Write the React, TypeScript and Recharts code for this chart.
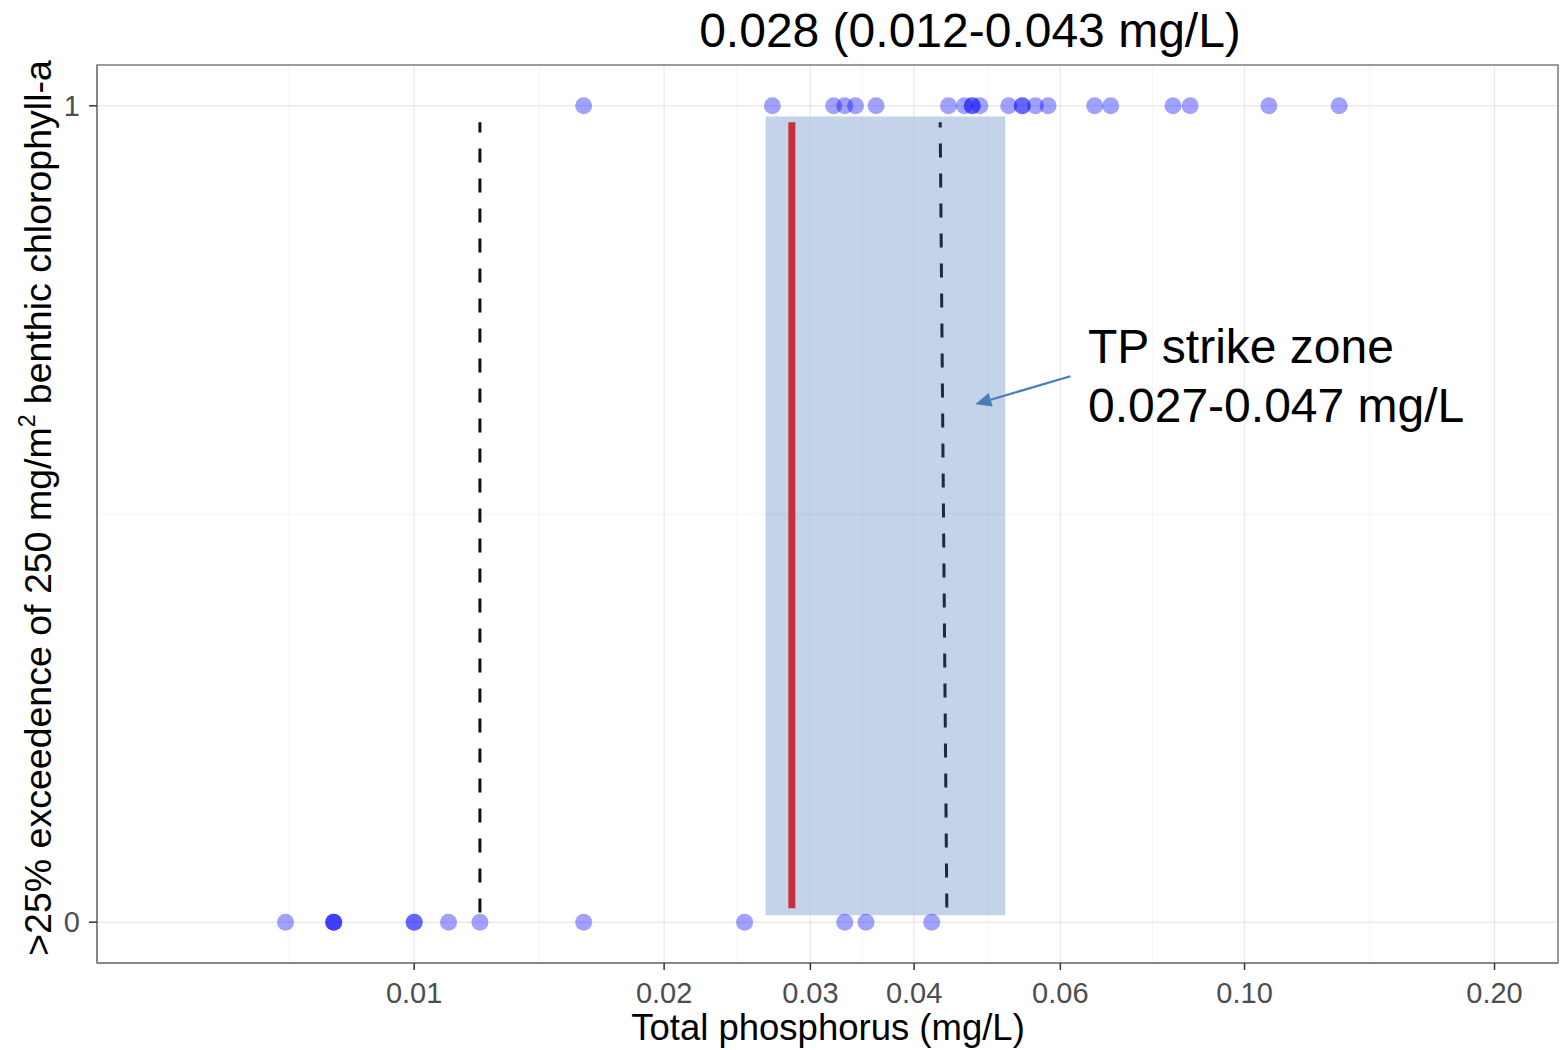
import React from "react";
import {
  ScatterChart,
  Scatter,
  XAxis,
  YAxis,
  CartesianGrid,
  ReferenceLine,
  ReferenceArea,
} from "recharts";

// TP (mg/L) of sites below / above the 25% exceedence threshold
const tpNoExceed = [0.007, 0.008, 0.008, 0.008, 0.01, 0.01, 0.011, 0.012, 0.016, 0.025, 0.033, 0.035, 0.042];
const tpExceed = [
  0.016, 0.027, 0.032, 0.033, 0.034, 0.036, 0.044, 0.046, 0.047, 0.047, 0.048, 0.052, 0.054, 0.054,
  0.056, 0.058, 0.066, 0.069, 0.082, 0.086, 0.107, 0.13,
];

const xTicks = [0.01, 0.02, 0.03, 0.04, 0.06, 0.1, 0.2];
const xTickLabels = ["0.01", "0.02", "0.03", "0.04", "0.06", "0.10", "0.20"];
const xMinor = [0.00707, 0.01414, 0.02449, 0.03464, 0.04899, 0.07746, 0.1414];
const yTicks = [0, 1];
const yMinor = [0.5];

const xDomain = [0.00415, 0.2385];
const yDomain = [-0.05, 1.05];

// estimate + interval, strike zone
const tpEstimate = 0.0285;
const ciLow = 0.012;
const ciHighTop = 0.043;
const ciHighBottom = 0.0438;
const strikeZone = [0.0265, 0.0515];

const FONT = "'Liberation Sans', Arial, sans-serif";

const dataNo = tpNoExceed.map((tp) => ({ tp, exceed: 0 }));
const dataYes = tpExceed.map((tp) => ({ tp, exceed: 1 }));

const Dot = (p: any) => <circle cx={p.cx} cy={p.cy} r={8.5} fill="#0000ff" fillOpacity={0.37} />;

const Arrow = (p: any) => {
  const { x1, y1, x2, y2 } = p;
  const ang = Math.atan2(y2 - y1, x2 - x1);
  const len = 16;
  const w = 7;
  const bx = x2 - len * Math.cos(ang);
  const by = y2 - len * Math.sin(ang);
  const px = -Math.sin(ang) * w;
  const py = Math.cos(ang) * w;
  return (
    <g>
      <line x1={x1} y1={y1} x2={bx} y2={by} stroke="#4a7ebb" strokeWidth={2.2} />
      <polygon points={`${x2},${y2} ${bx + px},${by + py} ${bx - px},${by - py}`} fill="#4a7ebb" />
    </g>
  );
};

const YLabel = () => (
  <text
    x={51}
    y={508}
    transform="rotate(-90, 51, 508)"
    textAnchor="middle"
    fontFamily={FONT}
    fontSize={37.5}
    fill="#000"
  >
    &gt;25% exceedence of 250 mg/m
    <tspan dy={-16} fontSize={23}>2</tspan>
    <tspan dy={16}> benthic chlorophyll-a</tspan>
  </text>
);

const XLabel = () => (
  <text x={828} y={1040} textAnchor="middle" fontFamily={FONT} fontSize={36.5} fill="#000">
    Total phosphorus (mg/L)
  </text>
);

export default function App() {
  return (
    <div style={{ position: "absolute", left: 0, top: 0, width: 1560, height: 1050, background: "#fff" }}>
      <ScatterChart width={1560} height={1050} margin={{ top: 65, right: 2, bottom: 0, left: 0 }}>
        <CartesianGrid stroke="#000" strokeOpacity={0.08} strokeWidth={1.4} />
        {xMinor.map((v) => (
          <ReferenceLine key={"xm" + v} x={v} stroke="#000" strokeOpacity={0.04} strokeWidth={1} />
        ))}
        {yMinor.map((v) => (
          <ReferenceLine key={"ym" + v} y={v} stroke="#000" strokeOpacity={0.04} strokeWidth={1} />
        ))}
        <XAxis
          type="number"
          dataKey="tp"
          scale="log"
          domain={xDomain}
          allowDataOverflow
          ticks={xTicks}
          tickFormatter={(v: number) => xTickLabels[xTicks.indexOf(v)] ?? String(v)}
          height={87}
          tickSize={7}
          tickMargin={12}
          stroke="#808080"
          tickLine={{ stroke: "#333", strokeWidth: 1.5 }}
          axisLine={{ stroke: "#808080", strokeWidth: 1.5 }}
          tick={{ fill: "#4d4d4d", fontSize: 29, fontFamily: FONT }}
          label={<XLabel />}
        />
        <YAxis
          type="number"
          dataKey="exceed"
          domain={yDomain}
          allowDataOverflow
          ticks={yTicks}
          width={97}
          tickSize={8}
          tickMargin={9}
          tickLine={{ stroke: "#333", strokeWidth: 1.5 }}
          axisLine={{ stroke: "#808080", strokeWidth: 1.5 }}
          tick={{ fill: "#4d4d4d", fontSize: 29, fontFamily: FONT }}
          label={<YLabel />}
        />
        <Scatter data={dataNo} shape={Dot} isAnimationActive={false} />
        <Scatter data={dataYes} shape={Dot} isAnimationActive={false} />
        <ReferenceArea
          x1={strikeZone[0]}
          x2={strikeZone[1]}
          y1={0.0085}
          y2={0.987}
          fill="#a9c0df"
          fillOpacity={0.7}
          stroke="none"
        />
        <ReferenceLine
          segment={[
            { x: tpEstimate, y: 0.017 },
            { x: tpEstimate, y: 0.98 },
          ]}
          stroke="#c8303c"
          strokeWidth={7}
        />
        <ReferenceLine
          segment={[
            { x: ciLow, y: 0.012 },
            { x: ciLow, y: 0.98 },
          ]}
          stroke="#111"
          strokeWidth={3}
          strokeDasharray="14 16"
        />
        <ReferenceLine
          segment={[
            { x: ciHighBottom, y: 0.018 },
            { x: ciHighTop, y: 0.98 },
          ]}
          stroke="#1b2a3c"
          strokeWidth={3}
          strokeDasharray="14 16"
        />
        <ReferenceLine
          segment={[
            { x: 0.0617, y: 0.6687 },
            { x: 0.0474, y: 0.6345 },
          ]}
          shape={Arrow}
        />
        <ReferenceArea
          x1={xDomain[0]}
          x2={xDomain[1]}
          y1={yDomain[0]}
          y2={yDomain[1]}
          fill="none"
          stroke="#808080"
          strokeWidth={1.5}
          ifOverflow="visible"
        />
      </ScatterChart>
      <svg
        width={1560}
        height={1050}
        style={{ position: "absolute", left: 0, top: 0, pointerEvents: "none" }}
      >
        <text x={970} y={47} textAnchor="middle" fontFamily={FONT} fontSize={48} fill="#000">
          0.028 (0.012-0.043 mg/L)
        </text>
        <text x={1088} y={363} fontFamily={FONT} fontSize={48} fill="#000">
          TP strike zone
        </text>
        <text x={1088} y={422} fontFamily={FONT} fontSize={48} fill="#000">
          0.027-0.047 mg/L
        </text>
      </svg>
    </div>
  );
}
